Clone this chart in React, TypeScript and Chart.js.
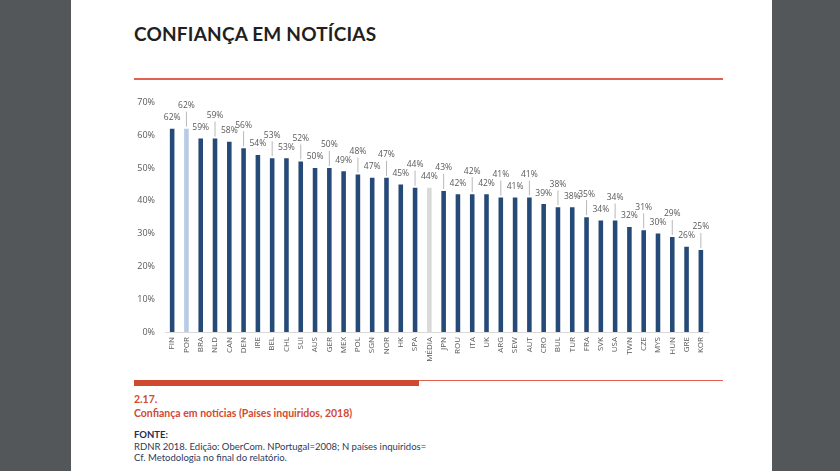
import React, { useEffect, useRef } from "react";
import { Chart, registerables } from "chart.js";

Chart.register(...registerables);

const countries = ["FIN","POR","BRA","NLD","CAN","DEN","IRE","BEL","CHL","SUI","AUS","GER","MEX","POL","SGN","NOR","HK","SPA","MÉDIA","JPN","ROU","ITA","UK","ARG","SEW","AUT","CRO","BUL","TUR","FRA","SVK","USA","TWN","CZE","MYS","HUN","GRE","KOR"];
const trust = [62,62,59,59,58,56,54,53,53,52,50,50,49,48,47,47,45,44,44,43,42,42,42,41,41,41,39,38,38,35,34,34,32,31,30,29,26,25];
const yTicks = [0,10,20,30,40,50,60,70];

const NAVY = "#264a78";
const HIGHLIGHT: Record<string, string> = { POR: "#b8cbe6", "MÉDIA": "#d9d9d9" };

const labelPlugin = {
  id: "barLabels",
  afterDatasetsDraw(chart: any) {
    const ctx = chart.ctx;
    const meta = chart.getDatasetMeta(0);
    ctx.save();
    ctx.font = "8.5px 'Open Sans'";
    ctx.fillStyle = "#595959";
    ctx.textAlign = "center";
    ctx.textBaseline = "middle";
    ctx.strokeStyle = "#a6a6a6";
    ctx.lineWidth = 0.8;
    meta.data.forEach((bar: any, i: number) => {
      const v = chart.data.datasets[0].data[i];
      const raised = i % 2 === 1;
      const ly = bar.y - (raised ? 23 : 11);
      if (raised) {
        ctx.beginPath();
        ctx.moveTo(bar.x, bar.y - 2);
        ctx.lineTo(bar.x, ly + 6);
        ctx.stroke();
      }
      ctx.fillText(v + "%", bar.x, ly);
    });
    ctx.restore();
  },
};

export default function App() {
  const ref = useRef<HTMLCanvasElement>(null);
  useEffect(() => {
    document.body.style.margin = "0";
    const chart = new Chart(ref.current!, {
      type: "bar",
      data: {
        labels: countries,
        datasets: [
          {
            data: trust,
            backgroundColor: countries.map((c) => HIGHLIGHT[c] || NAVY),
            barPercentage: 0.32,
            categoryPercentage: 1,
          },
        ],
      },
      options: {
        animation: false,
        responsive: false,
        maintainAspectRatio: false,
        layout: { padding: { left: 0, right: 12, top: 4, bottom: 8 } },
        plugins: { legend: { display: false }, tooltip: { enabled: false } },
        scales: {
          x: {
            offset: true,
            grid: { display: false, drawTicks: false },
            border: { display: true, color: "#d9d9d9", width: 1 },
            ticks: {
              autoSkip: false,
              maxRotation: 90,
              minRotation: 90,
              padding: 5,
              color: "#595959",
              font: { family: "'Open Sans'", size: 8 },
            },
            afterFit: (s: any) => { s.height = 35; },
          },
          y: {
            min: 0,
            max: 70,
            afterBuildTicks: (s: any) => { s.ticks = yTicks.map((v) => ({ value: v })); },
            grid: { display: false, drawTicks: false },
            border: { display: false },
            ticks: {
              padding: 10,
              color: "#595959",
              font: { family: "'Open Sans'", size: 9 },
              callback: (v: any) => v + "%",
            },
            afterFit: (s: any) => { s.width = 45; },
          },
        },
      },
      plugins: [labelPlugin],
    });
    return () => chart.destroy();
  }, []);

  const red = "#d04a32";
  return (
    <div style={{ position: "fixed", left: 0, top: 0, width: 840, height: 471, background: "#54575a", overflow: "hidden" }}>
      <div style={{ position: "absolute", left: 71, top: 0, width: 701, height: 471, background: "#ffffff" }} />
      <div style={{ position: "absolute", left: 134, top: 22, fontFamily: "Lato", fontWeight: 700, fontSize: 19, color: "#231f20", letterSpacing: 0.2, whiteSpace: "nowrap" }}>
        CONFIANÇA EM NOTÍCIAS
      </div>
      <div style={{ position: "absolute", left: 134, top: 78, width: 589, height: 1.5, background: "#e0614f" }} />
      <canvas ref={ref} width={600} height={288} style={{ position: "absolute", left: 120, top: 87, width: 600, height: 288 }} />
      <div style={{ position: "absolute", left: 134, top: 380, width: 589, height: 1, background: "#e0614f" }} />
      <div style={{ position: "absolute", left: 134, top: 380, width: 285, height: 6, background: red }} />
      <div style={{ position: "absolute", left: 134, top: 392, fontFamily: "Lato", fontWeight: 700, fontSize: 10.5, lineHeight: "14px", color: red, whiteSpace: "nowrap" }}>
        2.17.<br />Confiança em notícias (Países inquiridos, 2018)
      </div>
      <div style={{ position: "absolute", left: 134, top: 429, fontFamily: "Lato", fontSize: 9.5, lineHeight: "11.5px", color: "#1f2d4f", whiteSpace: "nowrap" }}>
        <span style={{ fontWeight: 700 }}>FONTE:</span><br />
        <span style={{ color: "#2b3a5c" }}>RDNR 2018. Edição: OberCom. NPortugal=2008; N países inquiridos=</span><br />
        <span style={{ color: "#2b3a5c" }}>Cf. Metodologia no final do relatório.</span>
      </div>
    </div>
  );
}
